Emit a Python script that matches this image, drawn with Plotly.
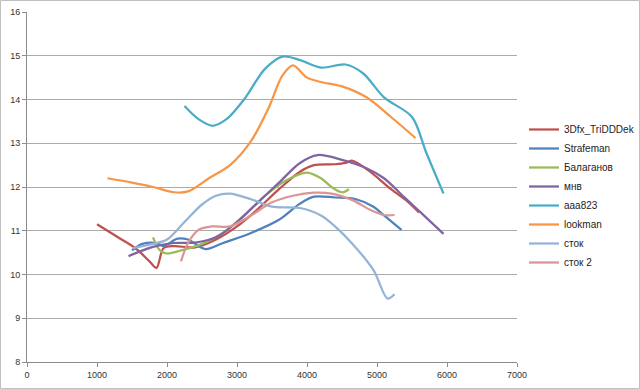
import plotly.graph_objects as go

# ---- data (rpm vs value) ----
x_3dfx = [1000, 1300, 1550, 1750, 1850, 1950, 2100, 2400, 2700, 3000, 3300, 3600, 3900, 4100, 4400, 4550, 4650, 4900, 5200, 5450, 5600]
y_3dfx = [11.15, 10.85, 10.6, 10.3, 10.15, 10.6, 10.65, 10.62, 10.8, 11.1, 11.5, 11.95, 12.35, 12.5, 12.52, 12.55, 12.6, 12.35, 11.95, 11.65, 11.42]

x_straf = [1500, 1650, 1850, 1950, 2150, 2300, 2550, 2800, 3200, 3600, 3900, 4100, 4400, 4700, 4950, 5100, 5350]
y_straf = [10.55, 10.7, 10.72, 10.65, 10.82, 10.8, 10.58, 10.72, 10.95, 11.25, 11.62, 11.78, 11.76, 11.72, 11.55, 11.35, 11.02]

x_balag = [1800, 1900, 2000, 2200, 2500, 2800, 3100, 3400, 3700, 4000, 4200, 4350, 4500, 4600]
y_balag = [10.85, 10.55, 10.48, 10.55, 10.7, 10.95, 11.35, 11.8, 12.15, 12.33, 12.2, 12.0, 11.88, 11.95]

x_mnv = [1450, 1800, 2100, 2400, 2700, 3000, 3300, 3600, 3900, 4150, 4500, 4850, 5100, 5400, 5650, 5950]
y_mnv = [10.42, 10.63, 10.72, 10.73, 10.85, 11.2, 11.65, 12.1, 12.55, 12.73, 12.62, 12.43, 12.2, 11.75, 11.38, 10.93]

x_aaa = [2250, 2450, 2650, 2850, 3100, 3400, 3650, 3900, 4200, 4550, 4800, 5100, 5500, 5700, 5950]
y_aaa = [13.85, 13.55, 13.4, 13.55, 14.0, 14.7, 14.98, 14.9, 14.73, 14.8, 14.6, 14.05, 13.6, 12.8, 11.85]

x_look = [1150, 1500, 1800, 2100, 2300, 2600, 2900, 3200, 3450, 3650, 3800, 4000, 4200, 4500, 4850, 5200, 5550]
y_look = [12.2, 12.1, 12.0, 11.88, 11.9, 12.2, 12.5, 13.05, 13.8, 14.55, 14.78, 14.5, 14.4, 14.3, 14.05, 13.6, 13.12]

x_stok = [1500, 1800, 2000, 2250, 2500, 2700, 2900, 3200, 3500, 3900, 4200, 4400, 4650, 4950, 5150, 5250]
y_stok = [10.6, 10.7, 10.8, 11.2, 11.6, 11.8, 11.85, 11.72, 11.55, 11.52, 11.35, 11.1, 10.7, 10.1, 9.45, 9.55]

x_stok2 = [2200, 2300, 2450, 2650, 2900, 3200, 3500, 3800, 4100, 4350, 4650, 4900, 5100, 5250]
y_stok2 = [10.3, 10.72, 11.02, 11.1, 11.1, 11.35, 11.65, 11.8, 11.87, 11.85, 11.7, 11.48, 11.36, 11.36]

names = ["3Dfx_TriDDDek", "Strafeman", "Балаганов", "мнв", "ааа823", "lookman", "сток", "сток 2"]
xs = [x_3dfx, x_straf, x_balag, x_mnv, x_aaa, x_look, x_stok, x_stok2]
ys = [y_3dfx, y_straf, y_balag, y_mnv, y_aaa, y_look, y_stok, y_stok2]
colors = ["#C0504D", "#4F81BD", "#9BBB59", "#8064A2", "#4BACC6", "#F79646", "#95B3D7", "#D99694"]

x_ticks = [0, 1000, 2000, 3000, 4000, 5000, 6000, 7000]
y_ticks = [8, 9, 10, 11, 12, 13, 14, 15, 16]

fig = go.Figure()
for n, x, y, c in zip(names, xs, ys, colors):
    fig.add_trace(go.Scatter(x=x, y=y, name=n, mode="lines",
                             line=dict(color=c, width=2.25, shape="spline", smoothing=0.9)))

W, H = 640, 389
ml, mr, mt, mb = 27, 123, 12, 27
pw, ph = W - ml - mr, H - mt - mb

fig.update_layout(
    width=W, height=H,
    margin=dict(l=ml, r=mr, t=mt, b=mb, autoexpand=False),
    paper_bgcolor="white", plot_bgcolor="white",
    font=dict(family="Liberation Sans, Arial, sans-serif", size=9, color="#333333"),
    showlegend=True,
    legend=dict(x=(524 - ml) / pw, xanchor="left", y=1 - (196 - mt) / ph, yanchor="middle",
                font=dict(size=10, color="#222222"), itemwidth=30, bgcolor="rgba(0,0,0,0)"),
    xaxis=dict(range=[0, 7000], tickvals=x_ticks, ticktext=[str(v) for v in x_ticks],
               showgrid=False, zeroline=False, showline=True, linecolor="#8C8C8C", linewidth=1,
               ticks="outside", ticklen=4, tickcolor="#8C8C8C", automargin=False),
    yaxis=dict(range=[8, 16], tickvals=y_ticks, ticktext=[str(v) for v in y_ticks],
               showgrid=True, gridcolor="#ABABAB", gridwidth=1, zeroline=False,
               showline=True, linecolor="#8C8C8C", linewidth=1,
               ticks="outside", ticklen=4, tickcolor="#8C8C8C", automargin=False),
    shapes=[dict(type="rect", xref="paper", yref="paper",
                 x0=(0.5 - ml) / pw, x1=(W - 0.5 - ml) / pw,
                 y0=-(mb - 0.5) / ph, y1=1 + (mt - 0.5) / ph,
                 line=dict(color="#BFBFBF", width=1), layer="below")],
)

fig.write_html("out.html", config={"displayModeBar": False},
               post_script="document.body.style.margin='0px';document.body.style.overflow='hidden';")
